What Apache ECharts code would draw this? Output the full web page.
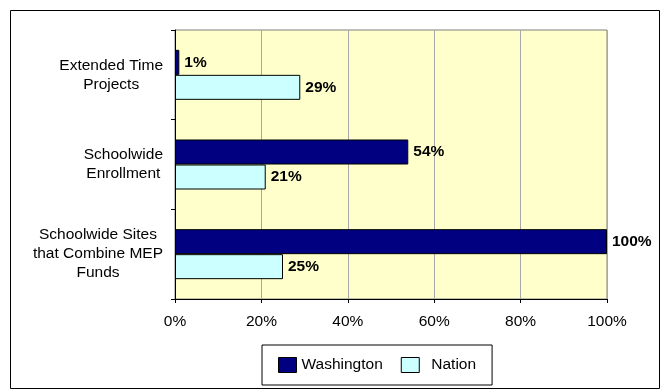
<!DOCTYPE html>
<html><head><meta charset="utf-8">
<script src="https://cdn.jsdelivr.net/npm/echarts@6/dist/echarts.min.js"></script>
<style>html,body{margin:0;padding:0;background:#fff}#c{width:668px;height:390px}</style>
</head><body><div id="c"></div>
<script>
var categories = ['Extended Time\nProjects', 'Schoolwide\nEnrollment', 'Schoolwide Sites\nthat Combine MEP\nFunds'];
var washington = [1, 54, 100];
var nation = [29, 21, 25];
var xTicks = [0, 20, 40, 60, 80, 100];

var chart = echarts.init(document.getElementById('c'), null, {renderer: 'canvas'});
var font = 'Arial, "Liberation Sans", sans-serif';
var fs = 15.5;
chart.setOption({
  animation: false,
  textStyle: {fontFamily: font},
  graphic: [{
    type: 'rect', shape: {x: 10.5, y: 10.5, width: 649, height: 378},
    style: {fill: 'none', stroke: '#000', lineWidth: 1}, z: 0
  }],
  grid: {
    left: 175, top: 30, right: 61, bottom: 91,
    show: true, backgroundColor: '#FFFFCC', borderColor: '#808080', borderWidth: 1
  },
  legend: {
    left: 262, top: 345,
    padding: [12, 16, 12, 16],
    borderColor: '#000', borderWidth: 1,
    icon: 'rect',
    itemWidth: 18, itemHeight: 15, itemGap: 18,
    textStyle: {fontSize: fs, color: '#000', fontFamily: font},
    data: [
      {name: 'Washington', itemStyle: {borderColor: '#000', borderWidth: 1}},
      {name: 'Nation', itemStyle: {borderColor: '#000', borderWidth: 1}, textStyle: {padding: [0, 0, 0, 7]}}
    ]
  },
  xAxis: {
    type: 'value', min: xTicks[0], max: xTicks[xTicks.length - 1], interval: 20,
    axisLine: {show: true, lineStyle: {color: '#000'}},
    axisTick: {show: true, length: 4, lineStyle: {color: '#000'}},
    axisLabel: {formatter: '{value}%', fontSize: fs, color: '#000', margin: 15, fontFamily: font},
    splitLine: {show: true, lineStyle: {color: '#A8A8A8'}}
  },
  yAxis: {
    type: 'category', inverse: true, data: categories,
    axisLine: {show: true, lineStyle: {color: '#000'}},
    axisTick: {show: true, length: 4, lineStyle: {color: '#000'}},
    axisLabel: {
      fontSize: fs, color: '#000', margin: 12, lineHeight: 19, fontFamily: font,
      formatter: function (v) { return v.split('\n').map(function (l) { return '{c|' + l + '}'; }).join('\n'); },
      rich: {c: {align: 'center', fontSize: fs, lineHeight: 19, color: '#000', fontFamily: font}}
    }
  },
  series: [
    {
      name: 'Washington', type: 'bar', data: washington, barWidth: 25, barGap: '0%',
      itemStyle: {color: '#000080', borderColor: '#000', borderWidth: 1},
      label: {show: true, position: 'right', distance: 5, formatter: '{c}%', fontWeight: 'bold', fontSize: fs, color: '#000', fontFamily: font}
    },
    {
      name: 'Nation', type: 'bar', data: nation, barWidth: 25, barGap: '0%',
      itemStyle: {color: '#CCFFFF', borderColor: '#000', borderWidth: 1},
      label: {show: true, position: 'right', distance: 5, formatter: '{c}%', fontWeight: 'bold', fontSize: fs, color: '#000', fontFamily: font}
    }
  ]
});
</script></body></html>
